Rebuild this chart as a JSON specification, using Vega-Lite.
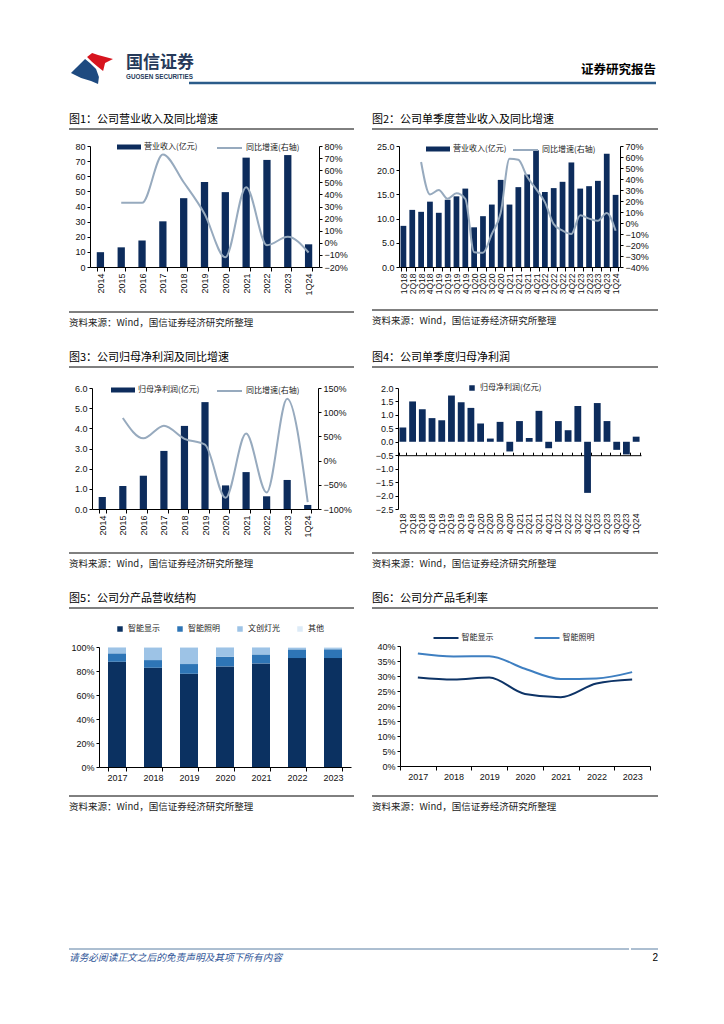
{
"$schema": "https://vega.github.io/schema/vega-lite/v6.json",
"background": "#ffffff",
"padding": {"left": 68, "top": 52, "right": 0, "bottom": 0},
"config": {
  "view": {"stroke": null},
  "font": "Liberation Sans",
  "axis": {"grid": false, "domainColor": "#000", "domainWidth": 1, "tickColor": "#000", "tickSize": 3, "labelFont": "Liberation Sans", "labelFontSize": 9, "labelColor": "#111", "labelPadding": 2, "labelOverlap": false, "labelFlush": false},
  "legend": {"labelFont": "Noto Sans CJK SC", "labelFontSize": 8, "labelColor": "#222", "padding": 0, "rowPadding": 2},
  "title": {"font": "Noto Sans CJK SC", "fontWeight": "normal", "color": "#000", "anchor": "start", "frame": "group"}
},
"spacing": 24,
"resolve": {"scale": {"color": "independent", "fill": "independent", "stroke": "independent"}, "legend": {"color": "independent", "fill": "independent", "stroke": "independent"}},
"vconcat": [
  {
    "hconcat": [
      {
        "width": 55, "height": 37,
        "data": {"values": [{}]},
        "layer": [
          {"mark": {"type": "point", "shape": "M-0.43,-0.615L-0.2,-0.795L0.07,-0.705L0.75,-0.525L0.39,-0.345L0.3,0.025L0.07,-0.155L-0.2,-0.385Z", "filled": true, "size": 1936, "color": "#D7141E", "opacity": 1, "strokeWidth": 0}, "encoding": {}},
          {"mark": {"type": "point", "shape": "M-1.16,0.115L-0.52,-0.525L-0.3,-0.345L-0.02,-0.065L0.11,0.295L0.07,0.615L-0.25,0.475L-0.7,0.345Z", "filled": true, "size": 1936, "color": "#1E4A80", "opacity": 1, "strokeWidth": 0}, "encoding": {}}
        ]
      },
      {
        "width": 65, "height": 31,
        "data": {"values": [{}]},
        "mark": {"type": "rule", "opacity": 0},
        "encoding": {"y": {"datum": 0, "type": "quantitative", "scale": {"domain": [0, 1]}, "axis": null}},
        "title": {"text": "国信证券", "subtitle": "GUOSEN SECURITIES", "anchor": "start", "offset": -29, "dx": 2, "fontSize": 17, "fontWeight": "bold", "color": "#263A5A", "subtitleFont": "Liberation Sans", "subtitleFontSize": 6.3, "subtitleFontWeight": "bold", "subtitleColor": "#263A5A", "subtitlePadding": 2}
      },
      {
        "width": 467, "height": 31,
        "data": {"values": [{}]},
        "mark": {"type": "rule", "color": "#2B5C8A", "strokeWidth": 2.5},
        "encoding": {"y": {"datum": 0, "type": "quantitative", "scale": {"domain": [0, 1]}, "axis": null}},
        "title": {"text": "证券研究报告", "anchor": "end", "offset": -24, "fontSize": 12.5, "fontWeight": "bold", "color": "#000"}
      }
    ],
    "spacing": 0,
    "bounds": "flush"
  },
  {
    "hconcat": [
      {
        "vconcat": [
          {
            "width": 285, "height": 1,
            "data": {"values": [{}]},
            "mark": {"type": "rule", "color": "#000", "strokeWidth": 1},
            "encoding": {"y": {"datum": 1, "type": "quantitative", "scale": {"domain": [0, 1]}, "axis": null}},
            "title": {"text": "图1：公司营业收入及同比增速", "offset": 4, "fontSize": 11}
          },
          {
            "hconcat": [
              {"width": 1, "height": 1, "data": {"values": [{}]}, "mark": {"type": "rule", "opacity": 0}, "encoding": {"y": {"datum": 0, "type": "quantitative", "axis": null}}},
              {
                "width": 229, "height": 121,
                "data": {"values": [
                  {"period": "2014", "revenue": 9.8, "growth": null},
                  {"period": "2015", "revenue": 13.0, "growth": 0.33},
                  {"period": "2016", "revenue": 17.5, "growth": 0.33},
                  {"period": "2017", "revenue": 30.2, "growth": 0.73},
                  {"period": "2018", "revenue": 45.5, "growth": 0.50},
                  {"period": "2019", "revenue": 56.2, "growth": 0.24},
                  {"period": "2020", "revenue": 49.5, "growth": -0.12},
                  {"period": "2021", "revenue": 72.3, "growth": 0.46},
                  {"period": "2022", "revenue": 70.8, "growth": -0.02},
                  {"period": "2023", "revenue": 74.0, "growth": 0.05},
                  {"period": "1Q24", "revenue": 15.0, "growth": -0.08}
                ]},
                "layer": [
                  {
                    "mark": {"type": "bar"},
                    "encoding": {
                      "x": {"field": "period", "type": "ordinal", "sort": null, "title": null, "scale": {"type": "band", "paddingInner": 0.65, "paddingOuter": 0.325}, "axis": {"labelAngle": -90, "tickBand": "extent", "tickSize": 4}},
                      "y": {"field": "revenue", "type": "quantitative", "title": null, "scale": {"domain": [0, 80], "nice": false}, "axis": {"values": [0, 10, 20, 30, 40, 50, 60, 70, 80], "minExtent": 20}},
                      "fill": {"datum": "营业收入(亿元)", "type": "nominal", "scale": {"range": ["#0D2C5C"]}, "legend": {"title": null, "orient": "none", "legendX": 34, "legendY": -4, "symbolType": "M-2.4,-0.5H2.4V0.5H-2.4Z", "symbolSize": 100, "symbolStrokeWidth": 0, "labelOffset": 10}}
                    }
                  },
                  {
                    "mark": {"type": "line", "interpolate": "monotone", "strokeWidth": 2},
                    "encoding": {
                      "x": {"field": "period", "type": "ordinal", "sort": null, "title": null, "bandPosition": 0.5, "scale": {"type": "band", "paddingInner": 0.65, "paddingOuter": 0.325}},
                      "y": {"field": "growth", "type": "quantitative", "title": null, "scale": {"domain": [-0.2, 0.8], "nice": false, "zero": false}, "axis": {"orient": "right", "format": ".0%", "values": [-0.2, -0.1, 0, 0.1, 0.2, 0.3, 0.4, 0.5, 0.6, 0.7, 0.8], "minExtent": 25}},
                      "stroke": {"datum": "同比增速(右轴)", "type": "nominal", "scale": {"range": ["#97AABE"]}, "legend": {"title": null, "orient": "none", "legendX": 133.5, "legendY": -4, "symbolType": "M-2.5,0H2.5", "symbolSize": 100, "symbolStrokeWidth": 2, "labelOffset": 10.5}}
                    }
                  }
                ],
                "resolve": {"scale": {"y": "independent"}}
              }
            ],
            "spacing": 0,
            "resolve": {"scale": {"color": "independent", "fill": "independent", "stroke": "independent"}, "legend": {"color": "independent", "fill": "independent", "stroke": "independent"}}
          },
          {
            "width": 285, "height": 4,
            "data": {"values": [{}]},
            "mark": {"type": "rule", "color": "#000", "strokeWidth": 1},
            "encoding": {"y": {"datum": 0, "type": "quantitative", "scale": {"domain": [0, 1]}, "axis": null}},
            "title": {"text": "资料来源：Wind，国信证券经济研究所整理", "orient": "bottom", "offset": 5, "fontSize": 9.5, "color": "#222"}
          }
        ],
        "spacing": 12,
        "resolve": {"scale": {"color": "independent", "fill": "independent", "stroke": "independent"}, "legend": {"color": "independent", "fill": "independent", "stroke": "independent"}}
      },
      {
        "vconcat": [
          {
            "width": 286, "height": 1,
            "data": {"values": [{}]},
            "mark": {"type": "rule", "color": "#000", "strokeWidth": 1},
            "encoding": {"y": {"datum": 1, "type": "quantitative", "scale": {"domain": [0, 1]}, "axis": null}},
            "title": {"text": "图2：公司单季度营业收入及同比增速", "offset": 4, "fontSize": 11}
          },
          {
            "hconcat": [
              {"width": 1, "height": 1, "data": {"values": [{}]}, "mark": {"type": "rule", "opacity": 0}, "encoding": {"y": {"datum": 0, "type": "quantitative", "axis": null}}},
              {
                "width": 221, "height": 121,
                "data": {"values": [
                  {"q": "1Q18", "rev": 8.5, "g": null},
                  {"q": "2Q18", "rev": 11.8, "g": null},
                  {"q": "3Q18", "rev": 11.4, "g": 0.555},
                  {"q": "4Q18", "rev": 13.5, "g": 0.26},
                  {"q": "1Q19", "rev": 11.2, "g": 0.30},
                  {"q": "2Q19", "rev": 13.9, "g": 0.22},
                  {"q": "3Q19", "rev": 14.6, "g": 0.27},
                  {"q": "4Q19", "rev": 16.2, "g": 0.22},
                  {"q": "1Q20", "rev": 8.2, "g": -0.265},
                  {"q": "2Q20", "rev": 10.5, "g": -0.27},
                  {"q": "3Q20", "rev": 12.9, "g": -0.10},
                  {"q": "4Q20", "rev": 18.0, "g": 0.09},
                  {"q": "1Q21", "rev": 12.9, "g": 0.585},
                  {"q": "2Q21", "rev": 16.5, "g": 0.575},
                  {"q": "3Q21", "rev": 19.1, "g": 0.42},
                  {"q": "4Q21", "rev": 24.1, "g": 0.31},
                  {"q": "1Q22", "rev": 15.5, "g": 0.19},
                  {"q": "2Q22", "rev": 16.3, "g": -0.01},
                  {"q": "3Q22", "rev": 17.6, "g": -0.07},
                  {"q": "4Q22", "rev": 21.6, "g": -0.10},
                  {"q": "1Q23", "rev": 16.2, "g": 0.07},
                  {"q": "2Q23", "rev": 16.7, "g": 0.04},
                  {"q": "3Q23", "rev": 17.8, "g": 0.02},
                  {"q": "4Q23", "rev": 23.4, "g": 0.09},
                  {"q": "1Q24", "rev": 14.9, "g": -0.07}
                ]},
                "layer": [
                  {
                    "mark": {"type": "bar"},
                    "encoding": {
                      "x": {"field": "q", "type": "ordinal", "sort": null, "title": null, "scale": {"type": "band", "paddingInner": 0.35, "paddingOuter": 0.175}, "axis": {"labelAngle": -90, "tickBand": "extent", "tickSize": 4, "labelFontSize": 8.5}},
                      "y": {"field": "rev", "type": "quantitative", "title": null, "scale": {"domain": [0, 25], "nice": false}, "axis": {"values": [0, 5, 10, 15, 20, 25], "format": ".1f", "minExtent": 26}},
                      "fill": {"datum": "营业收入(亿元)", "type": "nominal", "scale": {"range": ["#0D2C5C"]}, "legend": {"title": null, "orient": "none", "legendX": 34, "legendY": -2, "symbolType": "M-2.4,-0.5H2.4V0.5H-2.4Z", "symbolSize": 100, "symbolStrokeWidth": 0, "labelOffset": 10}}
                    }
                  },
                  {
                    "mark": {"type": "line", "interpolate": "monotone", "strokeWidth": 2},
                    "encoding": {
                      "x": {"field": "q", "type": "ordinal", "sort": null, "title": null, "bandPosition": 0.5, "scale": {"type": "band", "paddingInner": 0.35, "paddingOuter": 0.175}},
                      "y": {"field": "g", "type": "quantitative", "title": null, "scale": {"domain": [-0.4, 0.7], "nice": false, "zero": false}, "axis": {"orient": "right", "format": ".0%", "values": [-0.4, -0.3, -0.2, -0.1, 0, 0.1, 0.2, 0.3, 0.4, 0.5, 0.6, 0.7], "minExtent": 25}},
                      "stroke": {"datum": "同比增速(右轴)", "type": "nominal", "scale": {"range": ["#97AABE"]}, "legend": {"title": null, "orient": "none", "legendX": 120.5, "legendY": -2, "symbolType": "M-2.5,0H2.5", "symbolSize": 100, "symbolStrokeWidth": 2, "labelOffset": 10.5}}
                    }
                  }
                ],
                "resolve": {"scale": {"y": "independent"}}
              }
            ],
            "spacing": 0,
            "resolve": {"scale": {"color": "independent", "fill": "independent", "stroke": "independent"}, "legend": {"color": "independent", "fill": "independent", "stroke": "independent"}}
          },
          {
            "width": 286, "height": 4,
            "data": {"values": [{}]},
            "mark": {"type": "rule", "color": "#000", "strokeWidth": 1},
            "encoding": {"y": {"datum": 0, "type": "quantitative", "scale": {"domain": [0, 1]}, "axis": null}},
            "title": {"text": "资料来源：Wind，国信证券经济研究所整理", "orient": "bottom", "offset": 5, "fontSize": 9.5, "color": "#222"}
          }
        ],
        "spacing": 12,
        "resolve": {"scale": {"color": "independent", "fill": "independent", "stroke": "independent"}, "legend": {"color": "independent", "fill": "independent", "stroke": "independent"}}
      }
    ],
    "spacing": 16,
    "resolve": {"scale": {"color": "independent", "fill": "independent", "stroke": "independent"}, "legend": {"color": "independent", "fill": "independent", "stroke": "independent"}}
  },
  {
    "hconcat": [
      {
        "vconcat": [
          {
            "width": 285, "height": 3,
            "data": {"values": [{}]},
            "mark": {"type": "rule", "color": "#000", "strokeWidth": 1},
            "encoding": {"y": {"datum": 1, "type": "quantitative", "scale": {"domain": [0, 1]}, "axis": null}},
            "title": {"text": "图3：公司归母净利润及同比增速", "offset": 4, "fontSize": 11}
          },
          {
            "hconcat": [
              {"width": 1, "height": 1, "data": {"values": [{}]}, "mark": {"type": "rule", "opacity": 0}, "encoding": {"y": {"datum": 0, "type": "quantitative", "axis": null}}},
              {
                "width": 226, "height": 121,
                "data": {"values": [
                  {"period": "2014", "np": 0.60, "growth": null},
                  {"period": "2015", "np": 1.14, "growth": 0.88},
                  {"period": "2016", "np": 1.65, "growth": 0.46},
                  {"period": "2017", "np": 2.88, "growth": 0.72},
                  {"period": "2018", "np": 4.12, "growth": 0.45},
                  {"period": "2019", "np": 5.30, "growth": 0.33},
                  {"period": "2020", "np": 1.17, "growth": -0.77},
                  {"period": "2021", "np": 1.83, "growth": 0.56},
                  {"period": "2022", "np": 0.63, "growth": -0.66},
                  {"period": "2023", "np": 1.44, "growth": 1.28},
                  {"period": "1Q24", "np": 0.20, "growth": -0.86}
                ]},
                "layer": [
                  {
                    "mark": {"type": "bar"},
                    "encoding": {
                      "x": {"field": "period", "type": "ordinal", "sort": null, "title": null, "scale": {"type": "band", "paddingInner": 0.65, "paddingOuter": 0.325}, "axis": {"labelAngle": -90, "tickBand": "extent", "tickSize": 4}},
                      "y": {"field": "np", "type": "quantitative", "title": null, "scale": {"domain": [0, 6], "nice": false}, "axis": {"values": [0, 1, 2, 3, 4, 5, 6], "format": ".1f", "minExtent": 22}},
                      "fill": {"datum": "归母净利润(亿元)", "type": "nominal", "scale": {"range": ["#0D2C5C"]}, "legend": {"title": null, "orient": "none", "legendX": 26, "legendY": -3, "symbolType": "M-2.4,-0.5H2.4V0.5H-2.4Z", "symbolSize": 100, "symbolStrokeWidth": 0, "labelOffset": 10}}
                    }
                  },
                  {
                    "mark": {"type": "line", "interpolate": "monotone", "strokeWidth": 2},
                    "encoding": {
                      "x": {"field": "period", "type": "ordinal", "sort": null, "title": null, "bandPosition": 0.5, "scale": {"type": "band", "paddingInner": 0.65, "paddingOuter": 0.325}},
                      "y": {"field": "growth", "type": "quantitative", "title": null, "scale": {"domain": [-1, 1.5], "nice": false, "zero": false}, "axis": {"orient": "right", "format": ".0%", "values": [-1, -0.5, 0, 0.5, 1, 1.5], "minExtent": 25}},
                      "stroke": {"datum": "同比增速(右轴)", "type": "nominal", "scale": {"range": ["#97AABE"]}, "legend": {"title": null, "orient": "none", "legendX": 131.5, "legendY": -3, "symbolType": "M-2.5,0H2.5", "symbolSize": 100, "symbolStrokeWidth": 2, "labelOffset": 10.5}}
                    }
                  }
                ],
                "resolve": {"scale": {"y": "independent"}}
              }
            ],
            "spacing": 0,
            "resolve": {"scale": {"color": "independent", "fill": "independent", "stroke": "independent"}, "legend": {"color": "independent", "fill": "independent", "stroke": "independent"}}
          },
          {
            "width": 285, "height": 1,
            "data": {"values": [{}]},
            "mark": {"type": "rule", "color": "#000", "strokeWidth": 1},
            "encoding": {"y": {"datum": 0, "type": "quantitative", "scale": {"domain": [0, 1]}, "axis": null}},
            "title": {"text": "资料来源：Wind，国信证券经济研究所整理", "orient": "bottom", "offset": 5, "fontSize": 9.5, "color": "#222"}
          }
        ],
        "spacing": 14,
        "resolve": {"scale": {"color": "independent", "fill": "independent", "stroke": "independent"}, "legend": {"color": "independent", "fill": "independent", "stroke": "independent"}}
      },
      {
        "vconcat": [
          {
            "width": 286, "height": 3,
            "data": {"values": [{}]},
            "mark": {"type": "rule", "color": "#000", "strokeWidth": 1},
            "encoding": {"y": {"datum": 1, "type": "quantitative", "scale": {"domain": [0, 1]}, "axis": null}},
            "title": {"text": "图4：公司单季度归母净利润", "offset": 4, "fontSize": 11}
          },
          {
            "hconcat": [
              {"width": 1, "height": 1, "data": {"values": [{}]}, "mark": {"type": "rule", "opacity": 0}, "encoding": {"y": {"datum": 0, "type": "quantitative", "axis": null}}},
              {
                "width": 243, "height": 121,
                "data": {"values": [
                  {"q": "1Q18", "np": 0.53},
                  {"q": "2Q18", "np": 1.50},
                  {"q": "3Q18", "np": 1.21},
                  {"q": "4Q18", "np": 0.88},
                  {"q": "1Q19", "np": 0.80},
                  {"q": "2Q19", "np": 1.72},
                  {"q": "3Q19", "np": 1.47},
                  {"q": "4Q19", "np": 1.26},
                  {"q": "1Q20", "np": 0.68},
                  {"q": "2Q20", "np": 0.12},
                  {"q": "3Q20", "np": 0.74},
                  {"q": "4Q20", "np": -0.36},
                  {"q": "1Q21", "np": 0.77},
                  {"q": "2Q21", "np": 0.14},
                  {"q": "3Q21", "np": 1.15},
                  {"q": "4Q21", "np": -0.24},
                  {"q": "1Q22", "np": 0.77},
                  {"q": "2Q22", "np": 0.43},
                  {"q": "3Q22", "np": 1.33},
                  {"q": "4Q22", "np": -1.90},
                  {"q": "1Q23", "np": 1.44},
                  {"q": "2Q23", "np": 0.77},
                  {"q": "3Q23", "np": -0.30},
                  {"q": "4Q23", "np": -0.47},
                  {"q": "1Q24", "np": 0.19}
                ]},
                "layer": [
                  {
                    "mark": {"type": "bar"},
                    "encoding": {
                      "x": {"field": "q", "type": "ordinal", "sort": null, "title": null, "scale": {"type": "band", "paddingInner": 0.3, "paddingOuter": 0.15}, "axis": {"labelAngle": -90, "domain": false, "ticks": false, "labelPadding": 4, "labelFontSize": 8.5}},
                      "y": {"field": "np", "type": "quantitative", "title": null, "scale": {"domain": [-2.5, 2], "nice": false, "zero": false}, "axis": {"values": [-2.5, -2, -1.5, -1, -0.5, 0, 0.5, 1, 1.5, 2], "format": ".1f", "minExtent": 25}},
                      "fill": {"datum": "归母净利润(亿元)", "type": "nominal", "scale": {"range": ["#0D2C5C"]}, "legend": {"title": null, "orient": "none", "legendX": 70, "legendY": -4, "symbolType": "square", "symbolSize": 30, "symbolStrokeWidth": 0}}
                    }
                  },
                  {
                    "mark": {"type": "bar", "opacity": 0},
                    "encoding": {
                      "x": {"field": "q", "type": "ordinal", "sort": null, "title": null, "scale": {"type": "band", "paddingInner": 0.3, "paddingOuter": 0.15}, "axis": {"labels": false, "domain": true, "ticks": true, "tickBand": "extent", "tickSize": 3, "offset": -67.2}},
                      "y": {"field": "np", "type": "quantitative", "title": null, "axis": null}
                    }
                  }
                ],
                "resolve": {"axis": {"x": "independent", "y": "independent"}}
              }
            ],
            "spacing": 0,
            "resolve": {"scale": {"color": "independent", "fill": "independent", "stroke": "independent"}, "legend": {"color": "independent", "fill": "independent", "stroke": "independent"}}
          },
          {
            "width": 286, "height": 5,
            "data": {"values": [{}]},
            "mark": {"type": "rule", "color": "#000", "strokeWidth": 1},
            "encoding": {"y": {"datum": 0, "type": "quantitative", "scale": {"domain": [0, 1]}, "axis": null}},
            "title": {"text": "资料来源：Wind，国信证券经济研究所整理", "orient": "bottom", "offset": 5, "fontSize": 9.5, "color": "#222"}
          }
        ],
        "spacing": 14,
        "resolve": {"scale": {"color": "independent", "fill": "independent", "stroke": "independent"}, "legend": {"color": "independent", "fill": "independent", "stroke": "independent"}}
      }
    ],
    "spacing": 16,
    "resolve": {"scale": {"color": "independent", "fill": "independent", "stroke": "independent"}, "legend": {"color": "independent", "fill": "independent", "stroke": "independent"}}
  },
  {
    "hconcat": [
      {
        "vconcat": [
          {
            "width": 285, "height": 4,
            "data": {"values": [{}]},
            "mark": {"type": "rule", "color": "#000", "strokeWidth": 1},
            "encoding": {"y": {"datum": 1, "type": "quantitative", "scale": {"domain": [0, 1]}, "axis": null}},
            "title": {"text": "图5：公司分产品营收结构", "offset": 4, "fontSize": 11}
          },
          {
            "hconcat": [
              {"width": 1, "height": 1, "data": {"values": [{}]}, "mark": {"type": "rule", "opacity": 0}, "encoding": {"y": {"datum": 0, "type": "quantitative", "axis": null}}},
              {
                "width": 252, "height": 120,
                "data": {"values": [
                  {"year": "2017", "cat": "智能显示", "rank": 1, "share": 87.7},
                  {"year": "2017", "cat": "智能照明", "rank": 2, "share": 7.0},
                  {"year": "2017", "cat": "文创灯光", "rank": 3, "share": 5.0},
                  {"year": "2017", "cat": "其他", "rank": 4, "share": 0.3},
                  {"year": "2018", "cat": "智能显示", "rank": 1, "share": 82.7},
                  {"year": "2018", "cat": "智能照明", "rank": 2, "share": 6.4},
                  {"year": "2018", "cat": "文创灯光", "rank": 3, "share": 10.5},
                  {"year": "2018", "cat": "其他", "rank": 4, "share": 0.4},
                  {"year": "2019", "cat": "智能显示", "rank": 1, "share": 77.7},
                  {"year": "2019", "cat": "智能照明", "rank": 2, "share": 8.1},
                  {"year": "2019", "cat": "文创灯光", "rank": 3, "share": 13.8},
                  {"year": "2019", "cat": "其他", "rank": 4, "share": 0.4},
                  {"year": "2020", "cat": "智能显示", "rank": 1, "share": 83.8},
                  {"year": "2020", "cat": "智能照明", "rank": 2, "share": 8.1},
                  {"year": "2020", "cat": "文创灯光", "rank": 3, "share": 7.8},
                  {"year": "2020", "cat": "其他", "rank": 4, "share": 0.3},
                  {"year": "2021", "cat": "智能显示", "rank": 1, "share": 86.3},
                  {"year": "2021", "cat": "智能照明", "rank": 2, "share": 7.5},
                  {"year": "2021", "cat": "文创灯光", "rank": 3, "share": 5.9},
                  {"year": "2021", "cat": "其他", "rank": 4, "share": 0.3},
                  {"year": "2022", "cat": "智能显示", "rank": 1, "share": 90.8},
                  {"year": "2022", "cat": "智能照明", "rank": 2, "share": 7.2},
                  {"year": "2022", "cat": "文创灯光", "rank": 3, "share": 1.2},
                  {"year": "2022", "cat": "其他", "rank": 4, "share": 0.8},
                  {"year": "2023", "cat": "智能显示", "rank": 1, "share": 90.8},
                  {"year": "2023", "cat": "智能照明", "rank": 2, "share": 7.3},
                  {"year": "2023", "cat": "文创灯光", "rank": 3, "share": 1.0},
                  {"year": "2023", "cat": "其他", "rank": 4, "share": 0.9}
                ]},
                "mark": {"type": "bar"},
                "encoding": {
                  "x": {"field": "year", "type": "ordinal", "title": null, "scale": {"type": "band", "paddingInner": 0.5, "paddingOuter": 0.25}, "axis": {"labelAngle": 0, "tickBand": "extent", "tickSize": 4}},
                  "y": {"field": "share", "type": "quantitative", "stack": "normalize", "title": null, "scale": {"domain": [0, 1], "nice": false}, "axis": {"format": ".0%", "values": [0, 0.2, 0.4, 0.6, 0.8, 1], "minExtent": 27}},
                  "order": {"field": "rank", "type": "quantitative", "sort": "ascending"},
                  "color": {"field": "cat", "type": "nominal", "sort": ["智能显示", "智能照明", "文创灯光", "其他"], "scale": {"domain": ["智能显示", "智能照明", "文创灯光", "其他"], "range": ["#0B3161", "#2E75B6", "#9DC3E6", "#DDEBF7"]}, "legend": {"title": null, "orient": "none", "direction": "horizontal", "legendX": 17, "legendY": -22, "symbolType": "square", "symbolSize": 30, "symbolStrokeWidth": 0, "columnPadding": 16}}
                }
              }
            ],
            "spacing": 0,
            "resolve": {"scale": {"color": "independent", "fill": "independent", "stroke": "independent"}, "legend": {"color": "independent", "fill": "independent", "stroke": "independent"}}
          },
          {
            "width": 285, "height": 1,
            "data": {"values": [{}]},
            "mark": {"type": "rule", "color": "#000", "strokeWidth": 1},
            "encoding": {"y": {"datum": 0, "type": "quantitative", "scale": {"domain": [0, 1]}, "axis": null}},
            "title": {"text": "资料来源：Wind，国信证券经济研究所整理", "orient": "bottom", "offset": 5, "fontSize": 9.5, "color": "#222"}
          }
        ],
        "spacing": 13,
        "resolve": {"scale": {"color": "independent", "fill": "independent", "stroke": "independent"}, "legend": {"color": "independent", "fill": "independent", "stroke": "independent"}}
      },
      {
        "vconcat": [
          {
            "width": 286, "height": 12,
            "data": {"values": [{}]},
            "mark": {"type": "rule", "color": "#000", "strokeWidth": 1},
            "encoding": {"y": {"datum": 1, "type": "quantitative", "scale": {"domain": [0, 1]}, "axis": null}},
            "title": {"text": "图6：公司分产品毛利率", "offset": 4, "fontSize": 11}
          },
          {
            "hconcat": [
              {"width": 1, "height": 1, "data": {"values": [{}]}, "mark": {"type": "rule", "opacity": 0}, "encoding": {"y": {"datum": 0, "type": "quantitative", "axis": null}}},
              {
                "width": 250, "height": 120,
                "data": {"values": [
                  {"year": "2017", "cat": "智能显示", "margin": 0.295},
                  {"year": "2018", "cat": "智能显示", "margin": 0.288},
                  {"year": "2019", "cat": "智能显示", "margin": 0.295},
                  {"year": "2020", "cat": "智能显示", "margin": 0.240},
                  {"year": "2021", "cat": "智能显示", "margin": 0.229},
                  {"year": "2022", "cat": "智能显示", "margin": 0.275},
                  {"year": "2023", "cat": "智能显示", "margin": 0.288},
                  {"year": "2017", "cat": "智能照明", "margin": 0.375},
                  {"year": "2018", "cat": "智能照明", "margin": 0.365},
                  {"year": "2019", "cat": "智能照明", "margin": 0.366},
                  {"year": "2020", "cat": "智能照明", "margin": 0.324},
                  {"year": "2021", "cat": "智能照明", "margin": 0.290},
                  {"year": "2022", "cat": "智能照明", "margin": 0.292},
                  {"year": "2023", "cat": "智能照明", "margin": 0.313}
                ]},
                "mark": {"type": "line", "interpolate": "monotone", "strokeWidth": 2},
                "encoding": {
                  "x": {"field": "year", "type": "ordinal", "title": null, "bandPosition": 0.5, "scale": {"type": "band", "paddingInner": 0, "paddingOuter": 0}, "axis": {"labelAngle": 0, "tickBand": "extent", "tickSize": 4}},
                  "y": {"field": "margin", "type": "quantitative", "title": null, "scale": {"domain": [0, 0.4], "nice": false}, "axis": {"format": ".0%", "values": [0, 0.05, 0.1, 0.15, 0.2, 0.25, 0.3, 0.35, 0.4], "minExtent": 27}},
                  "color": {"field": "cat", "type": "nominal", "sort": ["智能显示", "智能照明"], "scale": {"domain": ["智能显示", "智能照明"], "range": ["#0D3366", "#3E7FC1"]}, "legend": {"title": null, "orient": "none", "direction": "horizontal", "legendX": 40, "legendY": -14, "symbolType": "M-2.5,0H2.5", "symbolSize": 100, "symbolStrokeWidth": 2, "labelOffset": 9.5, "columnPadding": 36}}
                }
              }
            ],
            "spacing": 0,
            "resolve": {"scale": {"color": "independent", "fill": "independent", "stroke": "independent"}, "legend": {"color": "independent", "fill": "independent", "stroke": "independent"}}
          },
          {
            "width": 286, "height": 3,
            "data": {"values": [{}]},
            "mark": {"type": "rule", "color": "#000", "strokeWidth": 1},
            "encoding": {"y": {"datum": 0, "type": "quantitative", "scale": {"domain": [0, 1]}, "axis": null}},
            "title": {"text": "资料来源：Wind，国信证券经济研究所整理", "orient": "bottom", "offset": 5, "fontSize": 9.5, "color": "#222"}
          }
        ],
        "spacing": 12,
        "resolve": {"scale": {"color": "independent", "fill": "independent", "stroke": "independent"}, "legend": {"color": "independent", "fill": "independent", "stroke": "independent"}}
      }
    ],
    "spacing": 16,
    "resolve": {"scale": {"color": "independent", "fill": "independent", "stroke": "independent"}, "legend": {"color": "independent", "fill": "independent", "stroke": "independent"}}
  },
  {
    "width": 587, "height": 89,
    "data": {"values": [{}]},
    "mark": {"type": "rule", "opacity": 0},
    "encoding": {"y": {"datum": 0, "type": "quantitative", "scale": {"domain": [0, 1]}, "axis": null}}
  },
  {
    "hconcat": [
      {
        "width": 560, "height": 1,
        "data": {"values": [{}]},
        "mark": {"type": "rule", "color": "#5B7FA3", "strokeWidth": 1},
        "encoding": {"y": {"datum": 1, "type": "quantitative", "scale": {"domain": [0, 1]}, "axis": null}},
        "title": {"text": "请务必阅读正文之后的免责声明及其项下所有内容", "orient": "bottom", "offset": 3, "fontSize": 9.7, "fontStyle": "italic", "color": "#2F5597"}
      },
      {
        "width": 27, "height": 1,
        "data": {"values": [{}]},
        "mark": {"type": "rule", "color": "#5B7FA3", "strokeWidth": 1},
        "encoding": {"y": {"datum": 1, "type": "quantitative", "scale": {"domain": [0, 1]}, "axis": null}},
        "title": {"text": "2", "orient": "bottom", "anchor": "end", "offset": 3, "fontSize": 10, "font": "Liberation Sans", "color": "#000"}
      }
    ],
    "spacing": 0
  }
]
}
